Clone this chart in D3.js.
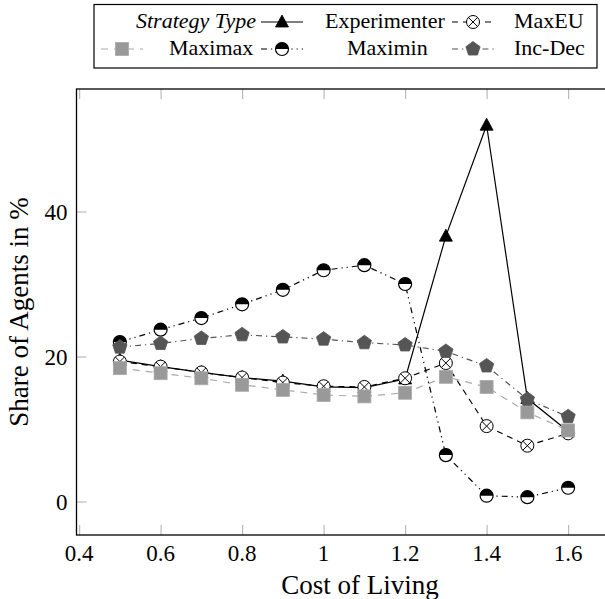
<!DOCTYPE html>
<html>
<head>
<meta charset="utf-8">
<script src="https://d3js.org/d3.v7.min.js"></script>
</head>
<body style="margin:0">
<script>
// data
var cost = [0.5, 0.6, 0.7, 0.8, 0.9, 1.0, 1.1, 1.2, 1.3, 1.4, 1.5, 1.6];
var experimenter = [19.5, 18.6, 17.8, 17.1, 16.6, 15.8, 15.7, 16.9, 36.6, 51.9, 14.2, 9.7];
var maxEU = [19.3, 18.6, 17.8, 17.1, 16.4, 15.9, 15.8, 17.0, 19.1, 10.4, 7.7, 9.4];
var maximax = [18.4, 17.7, 17.0, 16.1, 15.4, 14.7, 14.5, 15.0, 17.2, 15.8, 12.3, 9.8];
var maximin = [22.0, 23.7, 25.3, 27.2, 29.2, 31.9, 32.6, 30.0, 6.4, 0.8, 0.6, 1.9];
var incDec = [21.3, 21.8, 22.5, 23.0, 22.7, 22.4, 21.9, 21.6, 20.7, 18.7, 14.1, 11.7];
var xTicks = [0.4, 0.6, 0.8, 1.0, 1.2, 1.4, 1.6];
var yTicks = [0, 20, 40];

var width = 605, height = 599;
var plot = { left: 76.5, right: 643.5, top: 89, bottom: 535 };
var serifFont = "Liberation Serif, Tinos, Times New Roman, serif";

var svg = d3.select("body").append("svg")
    .attr("width", width)
    .attr("height", height)
    .attr("font-family", serifFont);

var x = d3.scaleLinear().domain([0.3936, 1.785]).range([plot.left, plot.right]);
var y = d3.scaleLinear().domain([-4.62, 56.9]).range([plot.bottom, plot.top]);

// ticks (inside, mirrored, light gray); labels drawn as plain text
function tickStyle(g) {
    g.select(".domain").remove();
    g.selectAll(".tick line").attr("stroke", "#bbb").attr("stroke-width", 1.2);
    g.selectAll(".tick text").remove();
}
svg.append("g").attr("transform", "translate(0," + plot.bottom + ")")
    .call(d3.axisBottom(x).tickValues(xTicks).tickSizeInner(-10).tickSizeOuter(0))
    .call(tickStyle);
svg.append("g").attr("transform", "translate(0," + plot.top + ")")
    .call(d3.axisTop(x).tickValues(xTicks).tickSizeInner(-10).tickSizeOuter(0))
    .call(tickStyle);
svg.append("g").attr("transform", "translate(" + plot.left + ",0)")
    .call(d3.axisLeft(y).tickValues(yTicks).tickSizeInner(-10).tickSizeOuter(0))
    .call(tickStyle);
svg.append("g").attr("transform", "translate(" + plot.right + ",0)")
    .call(d3.axisRight(y).tickValues(yTicks).tickSizeInner(-10).tickSizeOuter(0))
    .call(tickStyle);

function addText(parent, txt, size) {
    return parent.append("text")
        .attr("font-family", serifFont)
        .style("font-family", "'Liberation Serif', 'Times New Roman', serif", "important")
        .attr("font-size", size)
        .attr("fill", "#000")
        .text(txt);
}

xTicks.forEach(function (t) {
    addText(svg, String(+t.toFixed(1)), 23).attr("x", x(t)).attr("y", 561).attr("text-anchor", "middle");
});
yTicks.forEach(function (t) {
    addText(svg, String(t), 23).attr("x", 67.5).attr("y", y(t) + 8).attr("text-anchor", "end");
});

// frame
svg.append("rect")
    .attr("x", plot.left).attr("y", plot.top)
    .attr("width", plot.right - plot.left).attr("height", plot.bottom - plot.top)
    .attr("fill", "none").attr("stroke", "#000").attr("stroke-width", 1.3);

// axis labels
addText(svg, "Cost of Living", 27).attr("x", 360).attr("y", 594).attr("text-anchor", "middle");
addText(svg, "Share of Agents in %", 27).attr("transform", "translate(28,312) rotate(-90)")
    .attr("text-anchor", "middle");

// markers
function drawMarker(g, type, cx, cy) {
    if (type == "triangle") {
        g.append("path").attr("d", "M" + cx + "," + (cy - 7) + "L" + (cx + 6.5) + "," + (cy + 5) + "L" + (cx - 6.5) + "," + (cy + 5) + "Z")
            .attr("fill", "#000").attr("stroke", "#000").attr("stroke-width", 0.8);
    } else if (type == "otimes") {
        var r = 6.5, k = r * 0.7071;
        g.append("circle").attr("cx", cx).attr("cy", cy).attr("r", r)
            .attr("fill", "#fff").attr("stroke", "#000").attr("stroke-width", 1);
        g.append("path").attr("d", "M" + (cx - k) + "," + (cy - k) + "L" + (cx + k) + "," + (cy + k) +
            "M" + (cx + k) + "," + (cy - k) + "L" + (cx - k) + "," + (cy + k))
            .attr("stroke", "#000").attr("stroke-width", 1);
    } else if (type == "square") {
        g.append("rect").attr("x", cx - 6.5).attr("y", cy - 6.5).attr("width", 13).attr("height", 13)
            .attr("fill", "#999").attr("stroke", "#aaa").attr("stroke-width", 0.8);
    } else if (type == "halfcircle") {
        var r2 = 6.5;
        g.append("circle").attr("cx", cx).attr("cy", cy).attr("r", r2).attr("fill", "#fff");
        g.append("path").attr("d", "M" + (cx - r2) + "," + cy + "A" + r2 + "," + r2 + " 0 0 1 " + (cx + r2) + "," + cy + "Z")
            .attr("fill", "#000");
        g.append("circle").attr("cx", cx).attr("cy", cy).attr("r", r2)
            .attr("fill", "none").attr("stroke", "#000").attr("stroke-width", 1.2);
    } else if (type == "pentagon") {
        var pts = d3.range(5).map(function (i) {
            var a = -Math.PI / 2 + i * 2 * Math.PI / 5;
            return [cx + 7.5 * Math.cos(a), cy + 7.5 * Math.sin(a)];
        });
        g.append("path").attr("d", "M" + pts.join("L") + "Z")
            .attr("fill", "#555").attr("stroke", "#555").attr("stroke-width", 0.8);
    }
}

var series = [
    { name: "Experimenter", values: experimenter, color: "#000", dash: null, marker: "triangle" },
    { name: "MaxEU", values: maxEU, color: "#000", dash: "6,5", marker: "otimes" },
    { name: "Maximax", values: maximax, color: "#aaa", dash: "7,6", marker: "square" },
    { name: "Maximin", values: maximin, color: "#000", dash: "6,4,1.2,4,1.2,4", marker: "halfcircle" },
    { name: "Inc-Dec", values: incDec, color: "#555", dash: "6,4,1.2,4", marker: "pentagon" }
];

var line = d3.line()
    .x(function (d) { return x(d[0]); })
    .y(function (d) { return y(d[1]); });

series.forEach(function (s) {
    var pts = cost.map(function (c, i) { return [c, s.values[i]]; });
    var g = svg.append("g");
    g.append("path").datum(pts).attr("d", line)
        .attr("fill", "none").attr("stroke", s.color).attr("stroke-width", 1.2)
        .attr("stroke-dasharray", s.dash);
    pts.forEach(function (p) { drawMarker(g, s.marker, x(p[0]), y(p[1])); });
});

// legend
var legend = svg.append("g");
legend.append("rect").attr("x", 94).attr("y", 4.5).attr("width", 503).attr("height", 63.5)
    .attr("fill", "#fff").attr("stroke", "#000").attr("stroke-width", 1.2);
addText(legend, "Strategy Type", 22).attr("x", 136).attr("y", 28).attr("font-style", "italic");

var legendItems = [
    { s: series[0], lx: 261, tx: 325, row: 0 },
    { s: series[1], lx: 452, tx: 514, row: 0 },
    { s: series[2], lx: 101, tx: 169, row: 1 },
    { s: series[3], lx: 261, tx: 347, row: 1 },
    { s: series[4], lx: 452, tx: 514, row: 1 }
];
legendItems.forEach(function (it) {
    var cy = it.row == 0 ? 22 : 49;
    legend.append("path").attr("d", "M" + it.lx + "," + cy + "L" + (it.lx + 42) + "," + cy)
        .attr("stroke", it.s.color).attr("stroke-width", 1.2).attr("fill", "none")
        .attr("stroke-dasharray", it.s.dash);
    drawMarker(legend, it.s.marker, it.lx + 21, cy);
    addText(legend, it.s.name, 22).attr("x", it.tx).attr("y", cy + 6);
});
</script>
</body>
</html>
